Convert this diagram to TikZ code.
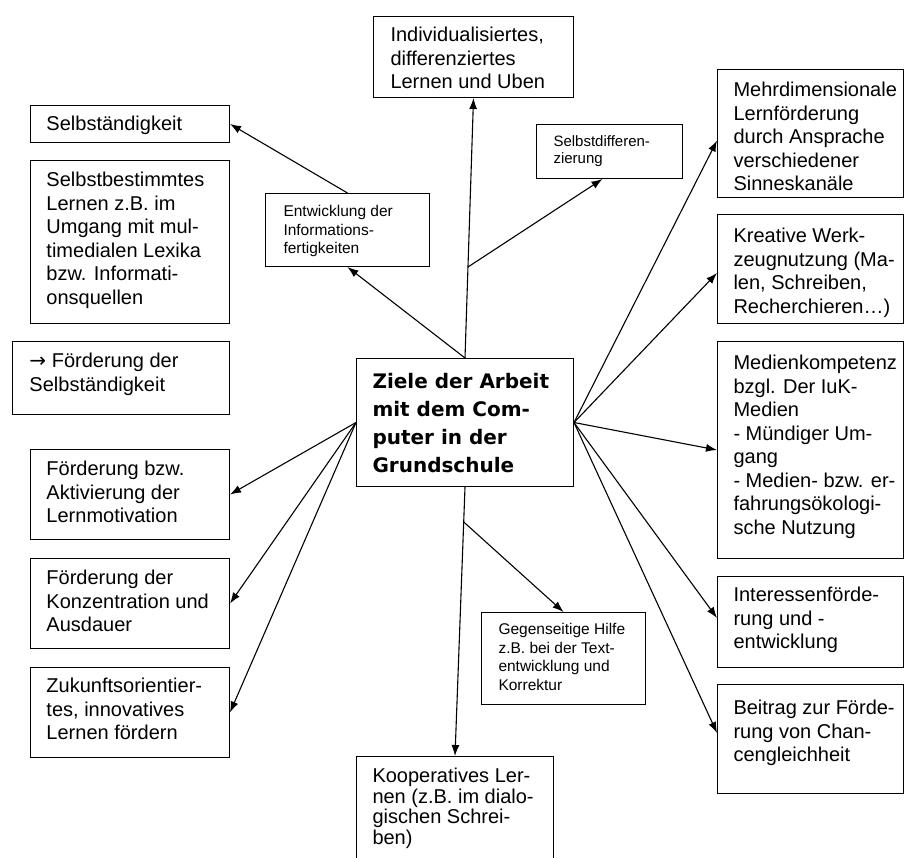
\documentclass[tikz,border=0pt]{standalone}
\usepackage{fontspec}
\setmainfont{Liberation Sans}
\newfontfamily\zielfont{DejaVu Sans}
\usetikzlibrary{arrows.meta,calc}

% box text: width, height, left gap, top gap, text
\newcommand{\boxtxt}[5]{\parbox[t][#2pt][t]{#1pt}{\raggedright\leftskip=#3pt\hyphenpenalty=10000\vspace*{#4pt}#5}}

\begin{document}
\begin{tikzpicture}[x=1pt, y=-1pt,
		kasten/.style={draw, line width=1pt, anchor=north west, inner sep=0pt, font=\fontsize{20}{23.5}\selectfont},
		klein/.style={kasten, font=\fontsize{15.5}{18.5}\selectfont},
		pfeil/.style={-{Latex[length=11pt,width=8pt]}, line width=1.1pt}]
	\path[use as bounding box, clip] (0,0) rectangle (904,858);
	
	% centre
	\node[kasten, font=\zielfont\bfseries\fontsize{20}{28}\selectfont] (ziel) at (356,358)
	{\boxtxt{217}{128}{16}{15}{Ziele der Arbeit\\mit dem Com-\\puter in der\\Grundschule}};
	
	% top
	\node[kasten] (indiv) at (373,16) {\boxtxt{200}{81}{17}{11}{Individualisiertes,\\differenziertes\\Lernen und Uben}};
	\node[klein, font=\fontsize{15}{16.7}\selectfont] (sdiff) at (536,124) {\boxtxt{146}{54}{17}{11}{Selbstdifferen-\\zierung}};
	\node[klein] (entw) at (265,193) {\boxtxt{164}{73}{18}{12}{Entwicklung der\\Informations-\\fertigkeiten}};
	
	% left
	\node[kasten] (selbst) at (30,105) {\boxtxt{199}{37}{16}{11}{Selbständigkeit}};
	\node[kasten] (bestimmt) at (30,160) {\boxtxt{199}{163}{16}{12}{Selbstbestimmtes\\Lernen z.B. im\\Umgang mit mul-\\timedialen Lexika\\bzw. Informati-\\onsquellen}};
	\node[kasten] (foerd) at (12,341) {\boxtxt{217}{73}{17}{12}{{\zielfont →} Förderung der\\Selbständigkeit}};
	\node[kasten] (motiv) at (30,449) {\boxtxt{199}{90}{16}{12}{Förderung bzw.\\Aktivierung der\\Lernmotivation}};
	\node[kasten] (konz) at (30,558) {\boxtxt{199}{90}{16}{12}{Förderung der\\Konzentration und\\Ausdauer}};
	\node[kasten] (zukunft) at (30,667) {\boxtxt{199}{90}{16}{11}{Zukunftsorientier-\\tes, innovatives\\Lernen fördern}};
	
	% right
	\node[kasten] (mehr) at (717,69) {\boxtxt{186}{128}{16}{13}{Mehrdimensionale\\Lernförderung\\durch Ansprache\\verschiedener\\Sinneskanäle}};
	\node[kasten] (kreativ) at (717,214) {\boxtxt{186}{109}{16}{14}{Kreative Werk-\\zeugnutzung (Ma-\\len, Schreiben,\\Recherchieren…)}};
	\node[kasten] (medien) at (717,341) {\boxtxt{186}{217}{16}{14}{Medienkompetenz\\bzgl. Der IuK-\\Medien\\- Mündiger Um-\\gang\\- Medien- bzw. er-\\fahrungsökologi-\\sche Nutzung}};
	\node[kasten] (interesse) at (717,576) {\boxtxt{186}{91}{16}{11}{Interessenförde-\\rung und -\\entwicklung}};
	\node[kasten] (beitrag) at (717,684) {\boxtxt{186}{109}{16}{16}{Beitrag zur Förde-\\rung von Chan-\\cengleichheit}};
	
	% bottom
	\node[klein] (hilfe) at (481,612) {\boxtxt{164}{92}{17}{11}{Gegenseitige Hilfe\\z.B. bei der Text-\\entwicklung und\\Korrektur}};
	\node[kasten, font=\fontsize{20}{20.5}\selectfont] (koop) at (356,756) {\boxtxt{197}{120}{16}{12}{Kooperatives Ler-\\nen (z.B. im dialo-\\gischen Schrei-\\ben)}};
	
	% arrows up
	\draw[pfeil] (ziel.north) -- (indiv.south);
	\coordinate (abzw1) at ($(ziel.north)!0.35!(indiv.south)$);
	\draw[pfeil] (abzw1) -- ($(sdiff.south)+(-7,0)$);
	\draw[pfeil] (ziel.north) -- (entw.south);
	\draw[pfeil] (entw.north) -- (selbst.east);
	
	% arrows right
	\draw[pfeil] (ziel.east) -- ($(mehr.west)+(0,7)$);
	\draw[pfeil] (ziel.east) -- ($(kreativ.west)+(0,4)$);
	\draw[pfeil] (ziel.east) -- (medien.west);
	\draw[pfeil] (ziel.east) -- ($(interesse.west)+(0,-4)$);
	\draw[pfeil] (ziel.east) -- ($(beitrag.west)+(0,-6)$);
	
	% arrows left
	\draw[pfeil] (ziel.west) -- (motiv.east);
	\draw[pfeil] (ziel.west) -- (konz.east);
	\draw[pfeil] (ziel.west) -- (zukunft.east);
	
	% arrows down
	\draw[pfeil] (ziel.south) -- (koop.north);
	\coordinate (abzw2) at ($(ziel.south)!0.13!(koop.north)$);
	\draw[pfeil] (abzw2) -- (hilfe.north);
	
\end{tikzpicture}
\end{document}
